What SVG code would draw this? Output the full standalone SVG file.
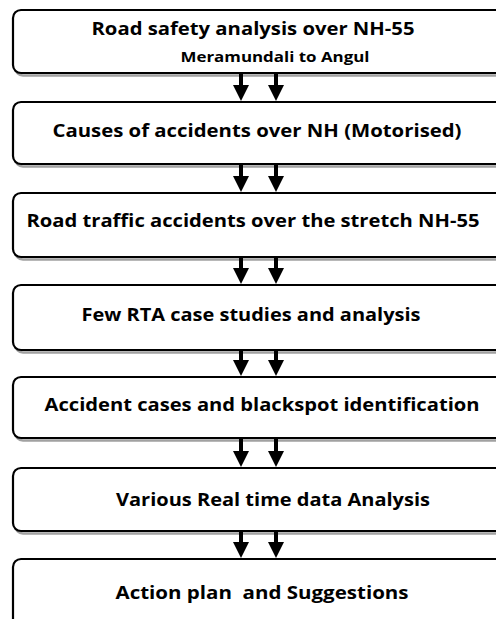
<svg xmlns="http://www.w3.org/2000/svg" width="496" height="619" viewBox="0 0 496 619">
<style>
.box{fill:#fff;stroke:#000;stroke-width:2.2}
.sh{fill:none;stroke:#8a8a8a;stroke-width:2.5;opacity:0.8}
.t{font-family:"Open Sans","Noto Sans","DejaVu Sans",sans-serif;font-weight:bold;font-size:18px;fill:#000;text-anchor:middle;white-space:pre}
.s{font-size:14px}
.c{stroke:#000;stroke-width:4}
</style>
<defs>
<marker id="ah" markerUnits="userSpaceOnUse" viewBox="0 0 16 16" refX="8" refY="8" markerWidth="16" markerHeight="16" orient="auto">
<path d="M0,0 L16,8 L0,16 z" fill="#000"/>
</marker>
</defs>
<rect width="496" height="619" fill="#fff"/>
<g id="n1">
<rect class="sh" x="15" y="12.5" width="500" height="63" rx="8"/>
<rect class="box" x="13" y="10" width="500" height="63" rx="8"/>
<text class="t" x="253" y="35" textLength="323" lengthAdjust="spacingAndGlyphs">Road safety analysis over NH-55</text>
<text class="t s" x="275" y="62" textLength="189" lengthAdjust="spacingAndGlyphs">Meramundali to Angul</text>
</g>
<g id="n2">
<rect class="sh" x="15" y="104.5" width="500" height="62" rx="8"/>
<rect class="box" x="13" y="102" width="500" height="62" rx="8"/>
<text class="t" x="257" y="137" textLength="409" lengthAdjust="spacingAndGlyphs">Causes of accidents over NH (Motorised)</text>
</g>
<g id="n3">
<rect class="sh" x="15" y="195.5" width="500" height="64" rx="8"/>
<rect class="box" x="13" y="193" width="500" height="64" rx="8"/>
<text class="t" x="253" y="227" textLength="453" lengthAdjust="spacingAndGlyphs">Road traffic accidents over the stretch NH-55</text>
</g>
<g id="n4">
<rect class="sh" x="15" y="287.5" width="500" height="65" rx="8"/>
<rect class="box" x="13" y="285" width="500" height="65" rx="8"/>
<text class="t" x="251" y="321" textLength="339" lengthAdjust="spacingAndGlyphs">Few RTA case studies and analysis</text>
</g>
<g id="n5">
<rect class="sh" x="15" y="379.5" width="500" height="61" rx="8"/>
<rect class="box" x="13" y="377" width="500" height="61" rx="8"/>
<text class="t" x="262" y="411" textLength="435" lengthAdjust="spacingAndGlyphs">Accident cases and blackspot identification</text>
</g>
<g id="n6">
<rect class="sh" x="15" y="470.5" width="500" height="63" rx="8"/>
<rect class="box" x="13" y="468" width="500" height="63" rx="8"/>
<text class="t" x="273" y="506" textLength="314" lengthAdjust="spacingAndGlyphs">Various Real time data Analysis</text>
</g>
<g id="n7">
<rect class="box" x="13" y="559" width="500" height="80" rx="8"/>
<text class="t" x="262" y="599" textLength="293" lengthAdjust="spacingAndGlyphs" xml:space="preserve">Action plan  and Suggestions</text>
</g>
<g id="connectors">
<line class="c" x1="241" y1="74" x2="241" y2="93" marker-end="url(#ah)"/>
<line class="c" x1="276" y1="74" x2="276" y2="93" marker-end="url(#ah)"/>
<line class="c" x1="241" y1="165" x2="241" y2="184" marker-end="url(#ah)"/>
<line class="c" x1="276" y1="165" x2="276" y2="184" marker-end="url(#ah)"/>
<line class="c" x1="241" y1="258" x2="241" y2="276" marker-end="url(#ah)"/>
<line class="c" x1="276" y1="258" x2="276" y2="276" marker-end="url(#ah)"/>
<line class="c" x1="241" y1="351" x2="241" y2="368" marker-end="url(#ah)"/>
<line class="c" x1="276" y1="351" x2="276" y2="368" marker-end="url(#ah)"/>
<line class="c" x1="241" y1="439" x2="241" y2="459" marker-end="url(#ah)"/>
<line class="c" x1="276" y1="439" x2="276" y2="459" marker-end="url(#ah)"/>
<line class="c" x1="241" y1="532" x2="241" y2="550" marker-end="url(#ah)"/>
<line class="c" x1="276" y1="532" x2="276" y2="550" marker-end="url(#ah)"/>
</g>
</svg>
